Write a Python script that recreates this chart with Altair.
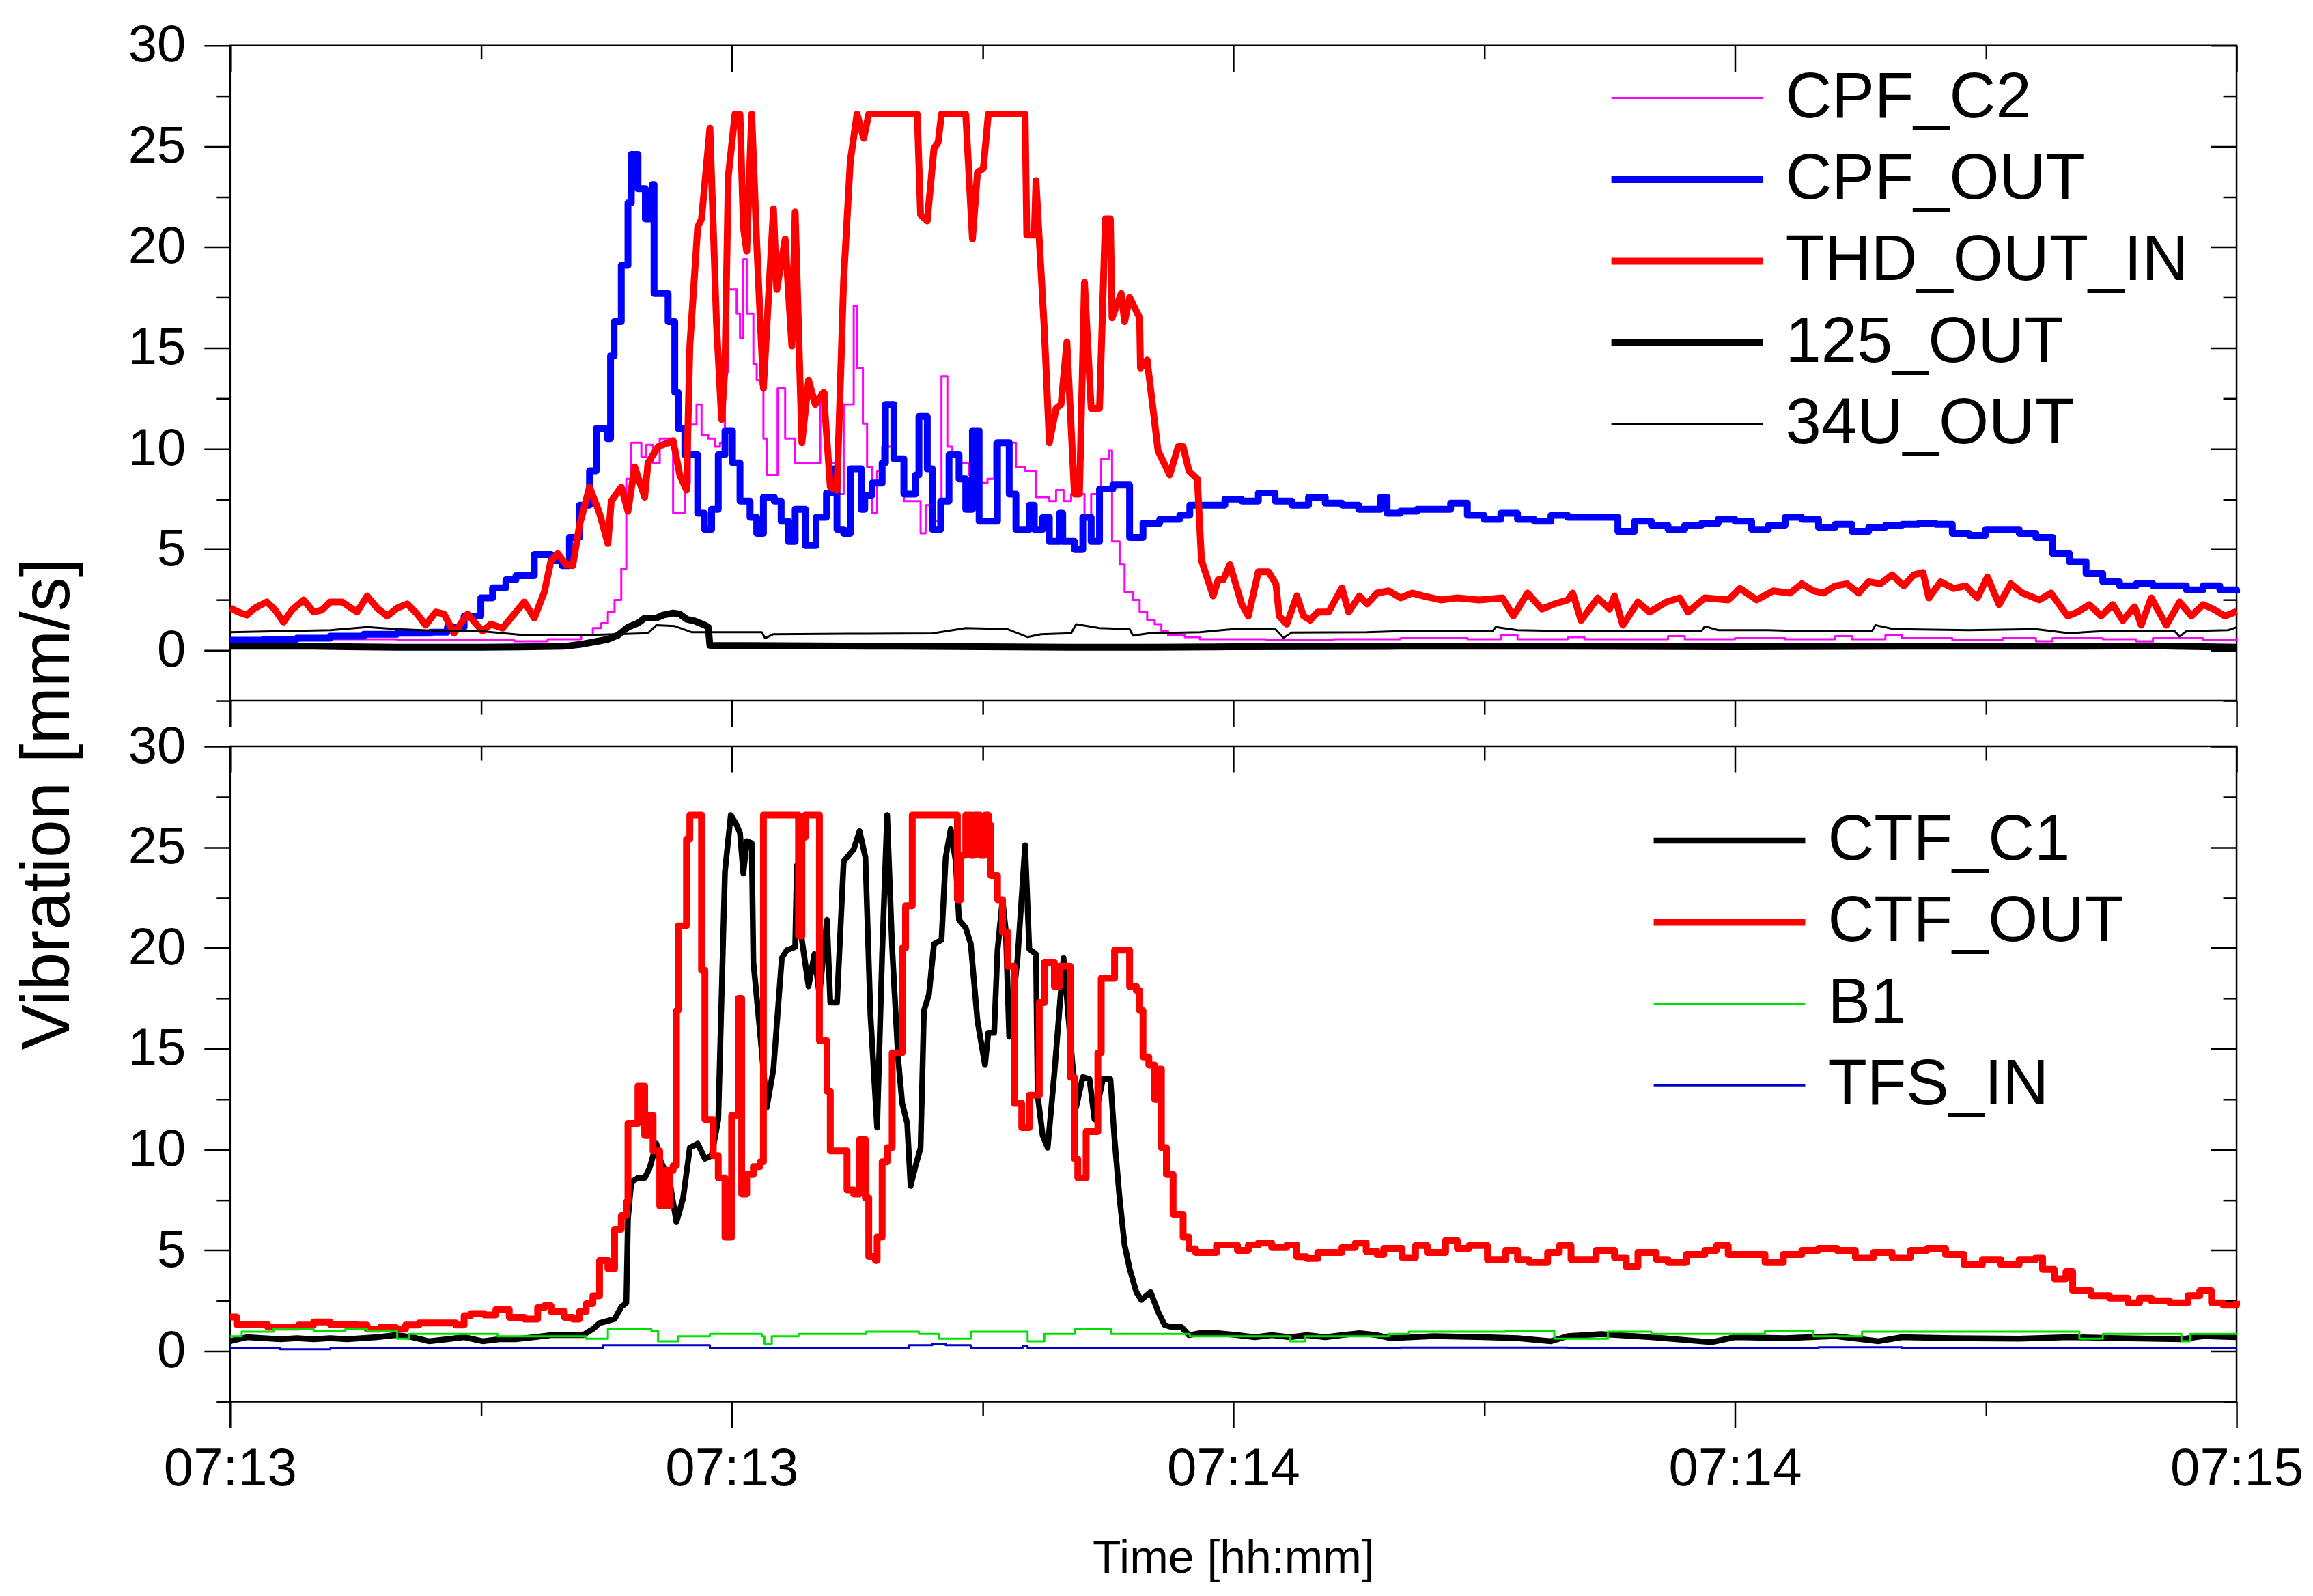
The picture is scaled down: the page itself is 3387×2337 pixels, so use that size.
import altair as alt
import pandas as pd

FONT = "Liberation Sans"
BASE = pd.Timestamp("2021-01-01 07:13:00")

# ---------------- axis tick values ----------------
X_MAJOR_S = [0, 30, 60, 90, 120]          # seconds after 07:13:00
X_MINOR_S = [15, 45, 75, 105]
Y_MAJOR = [0, 5, 10, 15, 20, 25, 30]
Y_MINOR = [-2.5, 2.5, 7.5, 12.5, 17.5, 22.5, 27.5]
Y_DOMAIN = [-2.5, 30]

# ---------------- series names / styles ----------------
TOP_NAMES = ["CPF_C2", "CPF_OUT", "THD_OUT_IN", "125_OUT", "34U_OUT"]
TOP_COLORS = ["#ff00ff", "#0000ff", "#ff0000", "#000000", "#000000"]
TOP_WIDTHS = [3, 10, 10, 10, 3]
BOT_NAMES = ["CTF_C1", "CTF_OUT", "B1", "TFS_IN"]
BOT_COLORS = ["#000000", "#ff0000", "#00e000", "#0000c8"]
BOT_WIDTHS = [8.5, 10, 3, 3]

# ---------------- data: (seconds after 07:13:00, mm/s) ----------------
cpf_c2 = [(0,0.6),(4,0.55),(10,0.5),(14,0.5),(17,0.45),(19,0.55),(21,0.75),(21.7,1.1),(22.2,1.35),
          (22.6,1.9),(23.0,2.5),(23.4,4.05),(23.7,8.5),(24.0,10.3),(24.6,9.6),(24.9,10.2),(25.3,9.3),
          (25.7,10.5),(26.5,6.8),(27.2,8.3),(27.5,11.2),(27.9,12.2),(28.2,10.7),(28.6,10.5),(29.0,10.1),
          (29.3,10.3),(29.6,13.8),(29.8,17.9),(30.3,16.7),(30.5,15.5),(30.7,19.4),(30.9,16.7),(31.3,14.2),
          (31.5,13.4),(31.7,13.2),(31.9,10.5),(32.1,8.7),(32.75,13.0),(33.2,10.5),(33.8,9.3),(35.3,12.8),
          (35.7,9.3),(36.3,7.75),(36.7,12.2),(37.3,17.1),(37.5,14.0),(37.85,11.25),(38.1,9.1),(38.4,6.8),
          (38.7,8.9),(39.0,10.1),(39.6,9.5),(40.3,7.4),(41.3,5.8),(41.6,7.2),(42.1,6.4),(42.55,13.6),
          (42.9,10.1),(43.2,9.7),(43.6,9.3),(44.2,8.7),(44.7,8.3),(45.3,8.5),(45.7,10.3),(47.0,9.1),
          (47.55,8.9),(48.2,7.6),(49.0,7.4),(49.4,7.95),(49.85,7.4),(50.3,7.75),(51.1,6.6),(51.5,7.75),
          (51.9,6.6),(52.1,9.5),(52.55,9.9),(52.75,5.4),(53.2,4.25),(53.5,2.9),(54.0,2.5),(54.4,1.9),
          (54.85,1.5),(55.3,1.3),(55.7,0.95),(56.1,0.75),(57.1,0.65),(58,0.55),(62,0.5),(66,0.55),
          (70,0.6),(74,0.55),(76,0.75),(77,0.55),(80,0.65),(81,0.55),(86,0.7),(87,0.55),(90,0.6),
          (93,0.55),(96,0.7),(97,0.55),(99,0.75),(100,0.6),(103,0.5),(106,0.6),(108,0.45),(109,0.6),
          (112,0.55),(114,0.45),(115,0.6),(118,0.5),(120,0.6)]

cpf_out = [(0,0.5),(2,0.55),(4,0.6),(6,0.7),(8,0.8),(10,0.85),(12,0.9),(13.0,1.15),(14.0,1.7),(15.0,2.6),
           (15.7,3.1),(16.5,3.5),(17.1,3.7),(18.2,4.75),(19.2,4.45),(19.85,4.2),(20.3,5.6),(20.9,7.2),
           (21.5,8.9),(21.9,11.0),(22.55,10.5),(22.76,14.6),(22.97,16.3),(23.4,19.1),(23.8,22.2),
           (24.0,24.6),(24.4,22.9),(24.84,21.4),(25.26,23.1),(25.36,17.7),(26.2,16.3),(26.6,12.8),
           (26.8,11.0),(27.2,9.7),(27.97,6.8),(28.38,6.0),(28.8,7.0),(29.2,9.7),(29.6,10.9),(30.05,9.3),
           (30.5,7.4),(31.1,6.6),(31.5,5.8),(31.9,7.6),(32.55,7.4),(32.96,6.4),(33.4,5.4),(33.8,7.0),
           (34.4,5.2),(35.05,6.6),(35.67,7.8),(36.1,9.0),(36.3,6.0),(36.7,5.8),(37.1,9.0),(37.75,7.0),
           (37.96,7.7),(38.4,8.3),(39.0,9.3),(39.2,12.2),(39.7,9.5),(40.3,7.75),(41.0,8.7),(41.2,11.6),
           (41.7,9.0),(42.0,6.0),(42.5,7.4),(43.0,9.7),(43.6,8.5),(44.0,7.0),(44.4,10.9),(44.8,6.4),
           (45.9,10.3),(46.6,7.75),(47.0,6.0),(47.8,7.2),(48.1,6.0),(48.6,6.6),(49.0,5.4),(49.6,6.8),
           (49.8,5.4),(50.5,5.0),(51.0,6.6),(51.5,5.4),(52.0,8.0),(52.8,8.2),(53.8,5.6),(54.6,6.3),
           (55.6,6.5),(56.8,6.7),(57.4,7.2),(58.5,7.2),(59.5,7.5),(60.5,7.4),(61.5,7.8),(62.5,7.4),
           (63.5,7.2),(64.5,7.6),(65.5,7.3),(66.5,7.2),(67.5,7.0),(68.8,7.6),(69.2,6.8),(70,6.9),(71,7.0),
           (72,7.0),(73,7.3),(74,6.7),(75,6.5),(76,6.8),(77,6.5),(78,6.4),(79,6.7),(80,6.6),(82,6.6),
           (83,5.9),(84,6.4),(85,6.2),(86,6.0),(87,6.2),(88,6.3),(89,6.5),(90,6.4),(91,6.0),(92,6.2),
           (93,6.6),(94,6.5),(95,6.1),(96,6.25),(97,5.9),(98,6.1),(99,6.2),(100,6.25),(101,6.3),
           (102,6.25),(103,5.8),(104,5.7),(105,6.0),(106,6.0),(107,5.8),(108,5.6),(109,4.8),(110,4.4),
           (111,3.8),(112,3.4),(113,3.2),(114,3.3),(115,3.2),(116,3.2),(117,3.0),(118,3.2),(119,3.0),
           (120,2.85)]

thd_out_in = [(0,2.1),(0.5,1.9),(1.0,1.75),(1.5,2.1),(2.2,2.4),(2.7,2.0),(3.2,1.4),(3.7,2.0),(4.4,2.5),
              (5.0,1.9),(5.5,2.0),(6.0,2.4),(6.7,2.4),(7.6,1.9),(8.2,2.7),(8.8,2.1),(9.4,1.7),(10.0,2.1),
              (10.6,2.3),(11.2,1.8),(11.7,1.25),(12.3,1.9),(12.8,1.8),(13.4,0.85),(14.2,1.8),(15.1,0.95),
              (15.6,1.3),(16.3,1.1),(17.6,2.4),(18.2,1.6),(18.8,2.9),(19.2,4.45),(19.6,4.8),(20.1,4.25),
              (20.5,4.2),(20.9,6.2),(21.5,8.1),(22.1,6.8),(22.6,5.3),(22.8,7.4),(23.4,8.1),(23.8,6.9),
              (24.2,9.1),(24.8,7.6),(25.0,9.3),(25.6,10.1),(26.5,10.4),(26.9,8.7),(27.3,7.95),(27.5,15.1),
              (27.97,21.0),(28.2,21.4),(28.7,25.9),(29.1,16.1),(29.4,11.45),(29.6,14.0),(29.8,23.5),
              (30.2,26.6),(30.5,26.6),(30.7,21.0),(30.9,19.8),(31.2,26.6),(31.5,20.2),(31.9,13.0),
              (32.5,21.9),(32.7,17.9),(33.2,20.4),(33.6,15.1),(33.8,21.75),(34.2,10.3),(34.6,13.4),
              (35.0,12.2),(35.5,12.8),(35.9,8.1),(36.3,7.95),(36.7,18.4),(37.1,24.3),(37.5,26.6),
              (37.9,25.4),(38.2,26.6),(41.1,26.6),(41.3,21.6),(41.7,21.3),(42.1,24.9),(42.35,25.2),
              (42.55,26.6),(44.0,26.6),(44.4,20.4),(44.7,23.7),(45.05,23.9),(45.35,26.6),(47.55,26.6),
              (47.65,20.6),(48.1,20.6),(48.2,23.3),(48.7,15.9),(49.0,10.3),(49.4,12.0),(49.7,12.2),
              (50.05,15.3),(50.5,7.75),(50.8,7.75),(51.1,18.25),(51.5,12.0),(52.0,12.0),(52.35,21.4),
              (52.65,21.4),(52.75,16.5),(53.3,17.7),(53.5,16.3),(53.8,17.5),(54.4,16.5),(54.45,14.0),
              (54.85,14.4),(55.5,9.9),(56.2,8.7),(56.7,10.1),(57.0,10.1),(57.35,8.9),(57.85,8.5),
              (58.1,4.45),(58.8,2.7),(59.1,3.5),(59.4,3.5),(59.8,4.25),(60.5,2.3),(60.9,1.7),(61.5,3.9),
              (62.1,3.9),(62.55,3.3),(62.75,1.7),(63.2,1.3),(63.8,2.7),(64.2,1.7),(64.6,1.5),(65.05,1.9),
              (65.7,1.9),(66.5,3.1),(66.9,1.9),(67.55,2.7),(68.0,2.3),(68.6,2.84),(69.3,2.95),(70.0,2.6),
              (70.7,2.84),(71.35,2.7),(72.4,2.5),(73.4,2.6),(74.7,2.5),(76.1,2.6),(76.75,1.7),(77.6,2.84),
              (78.45,2.05),(79.1,2.27),(80.0,2.5),(80.3,2.84),(80.8,1.48),(81.8,2.6),(82.5,2.05),(82.8,2.7),
              (83.3,1.25),(84.2,2.4),(84.9,1.9),(85.9,2.4),(86.7,2.6),(87.2,1.9),(88.2,2.6),(89.6,2.5),
              (90.3,3.07),(91.3,2.5),(92.3,2.95),(93.3,2.84),(94.0,3.3),(94.7,2.95),(95.3,2.84),(96.0,3.2),
              (96.7,3.3),(97.4,2.84),(98.0,3.4),(98.7,3.3),(99.4,3.75),(100.1,3.2),(100.7,3.75),
              (101.25,3.86),(101.6,2.6),(102.3,3.4),(103.1,3.07),(103.8,3.2),(104.5,2.6),(105.1,3.64),
              (105.8,2.27),(106.5,3.3),(107.2,2.84),(108.2,2.5),(108.9,2.84),(109.9,1.7),(110.5,1.9),
              (111.2,2.27),(111.9,1.7),(112.6,2.27),(113.2,1.48),(113.9,2.16),(114.3,1.25),(114.9,2.6),
              (115.8,1.25),(116.6,2.4),(117.3,1.7),(118.0,2.27),(118.6,2.05),(119.3,1.7),(120.0,1.93)]

out_125 = [(0,0.2),(5,0.2),(10,0.15),(15,0.15),(20,0.2),(21,0.3),(22,0.45),(22.6,0.55),(23.2,0.75),
           (23.8,1.15),(24.4,1.35),(24.8,1.6),(25.5,1.6),(25.9,1.75),(26.5,1.85),(26.9,1.8),(27.3,1.55),
           (27.8,1.45),(28.4,1.25),(28.6,1.15),(28.7,0.25),(35,0.22),(40,0.2),(45,0.18),(50,0.15),
           (55,0.15),(60,0.18),(70,0.2),(80,0.2),(90,0.18),(100,0.2),(110,0.2),(115,0.22),(120,0.15)]

out_34u = [(0,0.9),(3,0.95),(6,1.0),(8.2,1.15),(10,1.05),(13,0.95),(15,0.95),(17.6,0.75),(21,0.75),
           (23,0.8),(25,0.85),(25.5,1.25),(26.6,1.2),(27.6,0.9),(30,0.9),(31.8,0.9),(32.0,0.6),(32.5,0.8),
           (37,0.82),(42,0.84),(44,1.1),(46.5,1.05),(47.7,0.66),(48.5,0.8),(50.3,0.85),(50.6,1.3),
           (52,1.1),(53.8,1.05),(54.0,0.73),(55,0.85),(58,0.9),(60,1.05),(62.5,1.07),(63.0,0.62),
           (63.5,0.88),(68,0.9),(70,0.95),(75.5,0.95),(75.7,1.15),(77,1.0),(80,0.95),(83,0.95),(88,0.95),
           (88.2,1.19),(89,1.0),(92,1.0),(94,0.95),(98.2,0.95),(98.4,1.25),(99.5,1.05),(104,1.0),
           (108,1.05),(110,0.85),(112,0.95),(116.3,0.95),(116.6,0.68),(117,0.95),(119.5,1.0),(120,1.14)]

ctf_c1 = [(0,0.5),(1,0.7),(2,0.65),(3,0.6),(4,0.65),(5,0.6),(6,0.65),(7,0.6),(8.8,0.7),(9.9,0.8),
          (10.9,0.7),(11.9,0.5),(13,0.6),(14.0,0.7),(15.1,0.5),(16.1,0.6),(17.1,0.6),(18.2,0.7),
          (19.2,0.8),(20.3,0.8),(21.1,0.8),(21.7,1.1),(22.1,1.4),(23.0,1.6),(23.4,2.2),(23.7,2.4),
          (23.8,6.6),(24.0,8.4),(24.4,8.6),(24.8,8.6),(25.1,9.1),(25.5,10.3),(25.7,9.55),(26.3,8.4),
          (26.7,6.4),(27.1,7.6),(27.5,10.1),(27.97,10.3),(28.4,9.55),(28.8,9.7),(29.2,11.5),(29.6,23.8),
          (29.95,26.6),(30.3,26.1),(30.5,25.7),(30.7,23.7),(30.9,25.3),(31.2,25.2),(31.3,19.3),
          (31.7,15.8),(32.1,12.1),(32.5,14.0),(33.0,19.5),(33.3,19.9),(33.8,20.05),(33.9,24.1),
          (34.2,20.4),(34.6,18.1),(34.95,19.7),(35.25,17.7),(35.7,21.4),(35.9,17.3),(36.3,17.3),
          (36.7,24.3),(37.3,24.9),(37.65,25.8),(38.0,24.5),(38.3,16.7),(38.7,11.1),(39.0,19.7),
          (39.3,26.6),(39.6,20.0),(39.95,14.6),(40.2,12.3),(40.5,11.3),(40.7,8.2),(41.0,9.2),(41.3,10.1),
          (41.5,16.9),(41.8,17.7),(42.1,20.2),(42.55,20.4),(42.8,24.5),(43.1,25.9),(43.4,24.3),
          (43.6,21.4),(44.0,21.0),(44.3,20.2),(44.7,16.4),(45.15,14.2),(45.35,15.8),(45.7,15.8),
          (45.9,19.9),(46.2,22.4),(46.4,20.8),(46.6,15.6),(47.1,19.5),(47.55,25.1),(47.8,19.95),
          (48.2,19.7),(48.3,12.7),(48.6,10.7),(48.9,10.1),(49.3,13.8),(49.85,19.5),(50.15,16.5),
          (50.6,12.1),(51.0,13.6),(51.4,13.5),(51.7,11.5),(52.2,13.5),(52.65,13.5),(52.9,10.5),
          (53.2,7.6),(53.5,5.27),(53.8,4.1),(54.2,2.94),(54.5,2.55),(55.05,2.94),(55.5,1.97),(55.9,1.3),
          (56.3,1.2),(56.9,1.2),(57.35,0.8),(58.0,0.9),(59.0,0.9),(60.25,0.8),(61.3,0.7),(62.3,0.8),
          (63.4,0.7),(64.4,0.8),(65.5,0.7),(66.5,0.8),(67.55,0.9),(68.6,0.8),(69.4,0.65),(72,0.75),
          (75,0.7),(77,0.65),(79,0.5),(80,0.75),(82,0.85),(85,0.7),(88.6,0.45),(90,0.7),(93,0.65),
          (96,0.75),(98.6,0.5),(100,0.7),(103,0.65),(107,0.62),(110,0.7),(113,0.65),(116.7,0.6),
          (118,0.75),(120,0.7)]

ctf_out = [(0,1.7),(0.4,1.33),(2.25,1.2),(4.1,1.3),(5.0,1.45),(6.0,1.33),(7.6,1.3),(8.2,1.1),(9.0,1.2),
           (9.9,1.1),(10.5,1.3),(11.3,1.4),(13.5,1.3),(14.0,1.77),(14.4,1.87),(15.2,1.8),(15.9,2.07),
           (16.7,1.68),(17.6,1.6),(18.4,2.16),(18.8,2.26),(19.2,1.97),(20.0,1.68),(20.5,1.6),(20.9,1.97),
           (21.3,2.36),(21.7,2.75),(22.1,4.5),(22.6,4.1),(23.0,6.05),(23.4,6.73),(23.7,7.4),(23.8,11.3),
           (24.4,13.15),(24.8,10.7),(25.1,11.7),(25.3,9.94),(25.7,7.2),(26.1,8.97),(26.2,7.2),(26.3,8.97),
           (26.5,9.2),(26.7,16.9),(26.8,21.1),(27.3,25.4),(27.5,26.6),(28.2,18.9),(28.4,11.5),(28.9,9.7),
           (29.2,8.6),(29.6,5.66),(30.0,11.7),(30.4,17.5),(30.6,7.8),(30.9,8.77),(31.3,9.16),(31.7,9.4),
           (31.9,26.6),(34.0,20.6),(34.2,25.5),(34.4,26.6),(35.25,15.4),(35.7,12.9),(35.9,9.94),
           (36.9,8.0),(37.3,7.8),(37.65,10.5),(38.0,7.6),(38.2,4.7),(38.6,4.5),(38.7,5.66),(39.0,9.4),
           (39.3,10.1),(39.6,14.8),(40.2,20.0),(40.4,22.1),(40.8,26.6),(43.5,22.4),(43.7,24.6),
           (44.0,26.6),(44.3,24.6),(44.5,26.6),(44.85,24.6),(45.15,26.6),(45.35,26.1),(45.5,23.6),
           (45.9,22.4),(46.2,20.8),(46.5,19.1),(46.9,12.3),(47.35,11.1),(47.8,12.7),(48.4,17.3),
           (48.7,19.3),(49.3,18.1),(49.6,19.1),(50.25,13.6),(50.5,9.55),(50.7,8.6),(51.2,10.9),
           (51.9,14.8),(52.1,18.5),(52.9,19.9),(53.8,18.1),(54.2,17.9),(54.4,16.9),(54.6,14.6),
           (54.95,14.2),(55.3,12.5),(55.6,14.0),(55.7,10.1),(56.0,8.77),(56.4,6.8),(57.0,5.66),
           (57.35,5.08),(57.75,4.9),(59.0,5.27),(60.25,5.0),(60.9,5.27),(61.5,5.37),(62.3,5.15),
           (63.2,5.27),(63.8,4.69),(64.4,4.6),(65.05,4.9),(66.5,5.15),(67.3,5.37),(67.95,4.95),(68.6,4.8),
           (69.0,5.1),(70.1,4.65),(70.9,5.25),(71.6,4.9),(72.7,5.5),(73.4,5.1),(74.1,5.25),(75.2,4.55),
           (76.3,5.0),(77.0,4.55),(77.7,4.4),(78.8,4.9),(79.5,5.25),(80.2,4.55),(81.7,5.0),(82.8,4.65),
           (83.5,4.2),(84.2,4.9),(85.3,4.55),(86.0,4.4),(87.1,4.8),(88.2,5.0),(88.9,5.25),(89.6,4.8),
           (90.7,4.8),(91.8,4.4),(92.9,4.8),(94.0,5.0),(95.0,5.1),(96.1,5.0),(97.2,4.65),(98.3,4.9),
           (99.4,4.65),(100.5,5.0),(101.5,5.1),(102.6,4.8),(103.7,4.3),(104.8,4.55),(105.9,4.3),
           (107.0,4.55),(108.0,4.65),(108.4,4.06),(109.1,3.6),(109.8,3.95),(110.2,3.0),(111.3,2.76),
           (112.4,2.64),(113.5,2.4),(114.2,2.64),(114.9,2.5),(116.0,2.4),(117.1,2.76),(117.8,3.0),
           (118.5,2.4),(119.2,2.28),(120.0,2.5)]

b1 = [(0,0.74),(0.7,0.97),(2.6,1.1),(5,1.0),(6.9,1.1),(8.2,1.0),(10,0.62),(10.7,0.86),(12.9,0.86),
      (16,0.74),(18.8,0.74),(21.3,0.62),(22.6,1.1),(25.2,1.02),(25.6,0.5),(26.8,0.74),(28.7,0.86),
      (31.8,0.74),(31.96,0.38),(32.4,0.74),(34.0,0.86),(38.05,0.97),(41.2,0.86),(42.4,0.62),(44.3,0.97),
      (46.8,0.97),(47.7,0.5),(48.7,0.86),(50.55,1.1),(52.7,0.86),(55.9,0.86),(57.4,0.74),(63.4,0.5),
      (64.3,0.74),(69.3,0.86),(70.5,0.97),(76.3,1.02),(79.2,0.62),(82.4,0.97),(85,0.86),(91.8,1.02),
      (94.7,0.74),(97.6,0.97),(102.3,0.97),(107.3,0.97),(110.6,0.62),(112,0.86),(116.7,0.5),
      (117.2,0.86),(120,0.86)]

tfs_in = [(0,0.14),(3,0.1),(6,0.15),(22.3,0.3),(28.7,0.15),(40.6,0.3),(42.0,0.38),(42.8,0.3),
          (44.3,0.15),(47.4,0.26),(47.7,0.15),(70,0.18),(80,0.15),(95,0.2),(100,0.15),(120,0.15)]


# ---------------- helpers ----------------
def stamp(sec):
    return (BASE + pd.Timedelta(seconds=sec)).strftime("%Y-%m-%dT%H:%M:%S.%f")[:-3]


def dt(sec):
    ts = BASE + pd.Timedelta(seconds=sec)
    return alt.DateTime(year=ts.year, month=ts.month, date=ts.day,
                        hours=ts.hour, minutes=ts.minute, seconds=ts.second)


def table(series):
    rows = []
    for name, pts in series:
        for t, v in pts:
            rows.append({"series": name, "time": stamp(t), "v": v})
    return pd.DataFrame(rows)


def tick_axis(values, orient, size, inward=False, **extra):
    kw = dict(values=values, orient=orient, tickSize=size, tickWidth=2.5, tickColor="black",
              domain=False, grid=False, labels=False)
    if inward:
        kw["offset"] = -size
    kw.update(extra)
    return alt.Axis(**kw)


X_SCALE = alt.Scale(domain=[dt(0), dt(120)], nice=False)
Y_SCALE = alt.Scale(domain=Y_DOMAIN, nice=False, zero=False)
XMAJ = [dt(s) for s in X_MAJOR_S]
XMIN = [dt(s) for s in X_MINOR_S]

Y_LABELS = dict(labels=True, labelFont=FONT, labelFontSize=76, labelColor="black", labelPadding=27)


def panel(first, second, names, colors, widths, legend, x_main, y_main, x_title, y_title):
    color = alt.Color("series:N", scale=alt.Scale(type="ordinal", domain=names, range=colors),
                      legend=legend)
    swidth = alt.StrokeWidth("series:N",
                             scale=alt.Scale(type="ordinal", domain=names, range=widths),
                             legend=legend)

    (df1, interp1), (df2, interp2) = first, second

    l1 = alt.Chart(df1).mark_line(interpolate=interp1, strokeJoin="round").encode(
        x=alt.X("time:T", scale=X_SCALE, axis=x_main, title=x_title),
        y=alt.Y("v:Q", scale=Y_SCALE, axis=y_main, title=y_title),
        color=color, strokeWidth=swidth, detail="series:N")
    l2 = alt.Chart(df2).mark_line(interpolate=interp2, strokeJoin="round").encode(
        x=alt.X("time:T", scale=X_SCALE, axis=tick_axis(XMIN, "bottom", 20), title=None),
        y=alt.Y("v:Q", scale=Y_SCALE, axis=tick_axis(Y_MINOR, "left", 20), title=None),
        color=color, strokeWidth=swidth, detail="series:N")
    l3 = alt.Chart(df1).mark_line(opacity=0).encode(
        x=alt.X("time:T", scale=X_SCALE, axis=tick_axis(XMAJ, "top", 38, inward=True), title=None),
        y=alt.Y("v:Q", scale=Y_SCALE, axis=tick_axis(Y_MAJOR, "right", 38, inward=True), title=None))
    l4 = alt.Chart(df1).mark_line(opacity=0).encode(
        x=alt.X("time:T", scale=X_SCALE, axis=tick_axis(XMIN, "top", 20, inward=True), title=None),
        y=alt.Y("v:Q", scale=Y_SCALE, axis=tick_axis(Y_MINOR, "right", 20, inward=True), title=None))
    return alt.layer(l1, l2, l3, l4).resolve_axis(x="independent", y="independent").properties(
        width=2940, height=960)


def legend_at(x, y):
    return alt.Legend(title=None, orient="none", legendX=x, legendY=y, direction="vertical",
                      symbolType="stroke", symbolSize=222 * 222, symbolOpacity=1,
                      labelFont=FONT, labelFontSize=94, labelColor="black", labelOffset=28,
                      labelLimit=2000, clipHeight=100, rowPadding=19.5, padding=0)


# ---------------- top panel ----------------
top_step = table([("CPF_C2", cpf_c2), ("CPF_OUT", cpf_out)])
top_lin = table([("THD_OUT_IN", thd_out_in), ("125_OUT", out_125), ("34U_OUT", out_34u)])

top = panel(
    (top_step, "step-after"), (top_lin, "linear"),
    TOP_NAMES, TOP_COLORS, TOP_WIDTHS, legend_at(2019, 27),
    tick_axis(XMAJ, "bottom", 38),
    tick_axis(Y_MAJOR, "left", 38, titleFont=FONT, titleFontSize=100, titleFontWeight="normal",
              titleColor="black", titleAngle=270, titleX=-236, titleY=1111, titleAlign="center",
              titleBaseline="alphabetic", **Y_LABELS),
    None, "Vibration [mm/s]")

# ---------------- bottom panel ----------------
bot_lin = table([("CTF_C1", ctf_c1)])
bot_step = table([("CTF_OUT", ctf_out), ("B1", b1), ("TFS_IN", tfs_in)])

bottom = panel(
    (bot_lin, "linear"), (bot_step, "step-after"),
    BOT_NAMES, BOT_COLORS, BOT_WIDTHS, legend_at(2081, 88),
    tick_axis(XMAJ, "bottom", 38, labels=True, format="%H:%M", formatType="time",
              labelFont=FONT, labelFontSize=78, labelColor="black", labelPadding=84,
              labelBaseline="alphabetic", labelFlush=False, labelOverlap=False, labelBound=False,
              labelLimit=1000,
              titleFont=FONT, titleFontSize=68, titleFontWeight="normal", titleColor="black",
              titleX=1470, titleY=250, titleAlign="center", titleBaseline="alphabetic"),
    tick_axis(Y_MAJOR, "left", 38, **Y_LABELS),
    "Time [hh:mm]", None)

chart = alt.vconcat(top, bottom, spacing=67, bounds="flush").resolve_scale(
    x="independent", y="independent", color="independent", strokeWidth="independent"
).properties(
    padding={"left": 11, "top": 18, "right": 5, "bottom": 5}
).configure_view(stroke="black", strokeWidth=2.5)

chart.save("out.html", embed_options={"renderer": "svg", "actions": False})
